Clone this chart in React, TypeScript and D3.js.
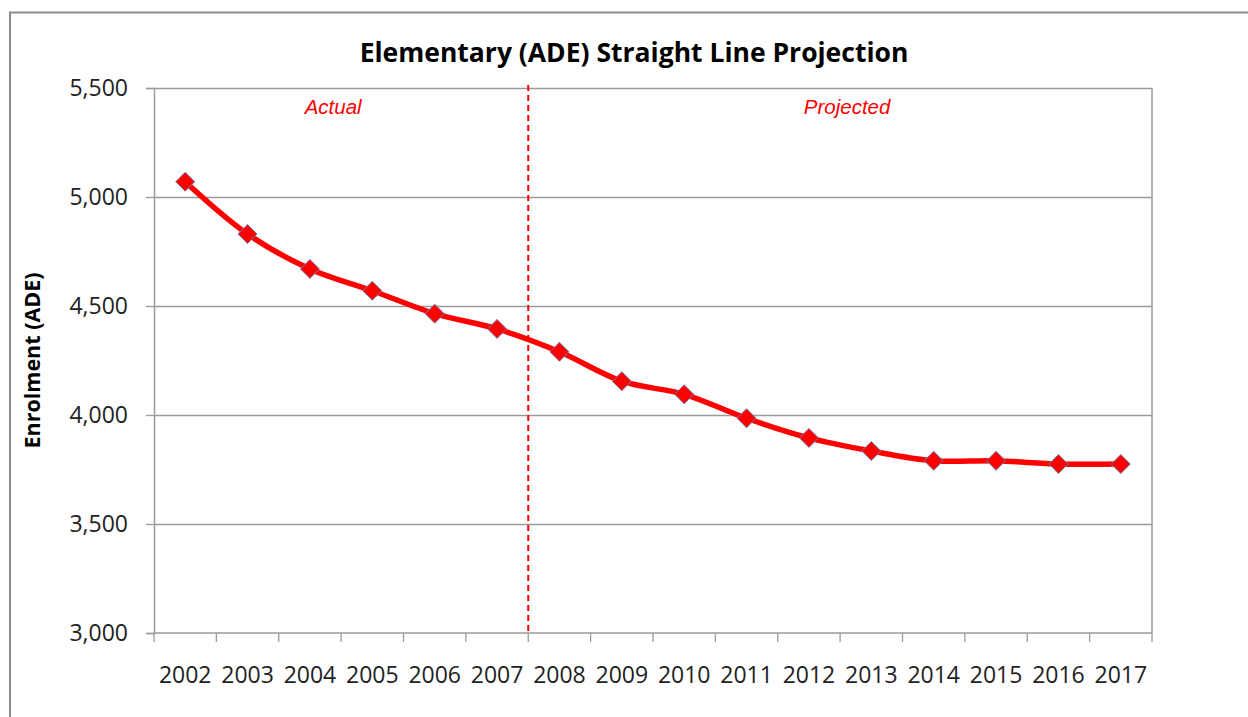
import * as d3 from "d3";
import {useEffect, useRef} from "react";

// enrolment values
const years = ["2002", "2003", "2004", "2005", "2006", "2007", "2008", "2009",
    "2010", "2011", "2012", "2013", "2014", "2015", "2016", "2017"];
const enrolment = [5070, 4830, 4670, 4570, 4465, 4395, 4290, 4155,
    4095, 3985, 3895, 3835, 3790, 3790, 3775, 3775];
const yTicks = [3000, 3500, 4000, 4500, 5000, 5500];
const splitAfter = "2007"; // last actual year
const notes = [{text: "Actual", from: "2002", to: "2007"}, {text: "Projected", from: "2008", to: "2017"}];

export default function App() {
    const ref = useRef<SVGSVGElement>(null);

    useEffect(() => {
        const width = 1248;
        const height = 717;
        const margin = {top: 88, right: 96, bottom: 84, left: 154};
        const font = "'Open Sans', Lato, sans-serif";

        const svg = d3.select(ref.current);
        svg.selectAll("*").remove();
        svg.attr("width", width).attr("height", height);

        svg.append("rect").attr("width", width).attr("height", height).attr("fill", "#fff");
        // chart frame (runs off the right and bottom edges)
        svg.append("rect")
            .attr("x", 10).attr("y", 12.5)
            .attr("width", width + 20).attr("height", height + 20)
            .attr("fill", "none").attr("stroke", "#8c8c8c").attr("stroke-width", 2);

        const x = d3.scaleBand().domain(years).range([margin.left, width - margin.right]);
        const y = d3.scaleLinear().domain([3000, 5500]).range([height - margin.bottom, margin.top]);
        const x0 = margin.left, x1 = width - margin.right;

        // gridlines
        svg.append("g").selectAll("line").data(yTicks.slice(1)).join("line")
            .attr("x1", x0).attr("x2", x1)
            .attr("y1", d => Math.round(y(d)) + 0.5).attr("y2", d => Math.round(y(d)) + 0.5)
            .attr("stroke", "#9a9a9a").attr("stroke-width", 1.3);

        // right border of plot
        svg.append("line").attr("x1", x1).attr("x2", x1)
            .attr("y1", y(5500)).attr("y2", y(3000))
            .attr("stroke", "#9a9a9a").attr("stroke-width", 1.5);

        // y axis
        const yAxis = svg.append("g").attr("transform", `translate(${x0},0)`)
            .call(d3.axisLeft(y).tickValues(yTicks).tickSize(8).tickPadding(18).tickFormat(d3.format(",")));
        yAxis.select(".domain").attr("stroke", "#9a9a9a").attr("stroke-width", 1.5);
        yAxis.selectAll(".tick line").attr("stroke", "#9a9a9a").attr("stroke-width", 1.3);
        yAxis.selectAll("text").attr("font-family", font).attr("font-size", 23).attr("fill", "#222");

        // x axis with ticks at category boundaries
        const xAxisG = svg.append("g").attr("transform", `translate(0,${y(3000)})`);
        xAxisG.append("line").attr("x1", x0).attr("x2", x1)
            .attr("stroke", "#9a9a9a").attr("stroke-width", 1.5);
        const bounds = years.map(d => x(d) as number).concat([x1]);
        xAxisG.selectAll("line.tk").data(bounds).join("line").attr("class", "tk")
            .attr("x1", d => d).attr("x2", d => d).attr("y1", 0).attr("y2", 9)
            .attr("stroke", "#9a9a9a").attr("stroke-width", 1.3);
        xAxisG.selectAll("text").data(years).join("text")
            .attr("x", d => (x(d) as number) + x.bandwidth() / 2)
            .attr("y", 50)
            .attr("text-anchor", "middle")
            .attr("font-family", font).attr("font-size", 23).attr("fill", "#222")
            .text(d => d);

        // split line between actual and projected
        const splitX = (x(splitAfter) as number) + x.bandwidth();
        svg.append("line").attr("x1", splitX).attr("x2", splitX)
            .attr("y1", y(5500) - 3).attr("y2", y(3000))
            .attr("stroke", "#ff0000").attr("stroke-width", 2).attr("stroke-dasharray", "6,4");

        svg.append("g").selectAll("text").data(notes).join("text")
            .attr("x", d => ((x(d.from) as number) + (x(d.to) as number) + x.bandwidth()) / 2
                + (d.text === "Actual" ? -8 : 7))
            .attr("y", y(5500) + 26)
            .attr("text-anchor", "middle")
            .attr("font-family", "'Liberation Sans', Arial, sans-serif")
            .attr("font-style", "italic").attr("font-size", 20.5).attr("fill", "#ff0000")
            .text(d => d.text);

        // series line
        const line = d3.line<number>()
            .x((_, i) => (x(years[i]) as number) + x.bandwidth() / 2)
            .y(d => y(d))
            .curve(d3.curveCatmullRom.alpha(0.5));
        svg.append("path").datum(enrolment)
            .attr("d", line)
            .attr("fill", "none").attr("stroke", "#ff0000").attr("stroke-width", 5.5)
            .attr("stroke-linejoin", "round");

        // diamond markers
        const diamond = d3.symbol().type(d3.symbolDiamond2).size(230);
        svg.append("g").selectAll("path").data(enrolment).join("path")
            .attr("transform", (d, i) => `translate(${(x(years[i]) as number) + x.bandwidth() / 2},${y(d)})`)
            .attr("d", diamond)
            .attr("fill", "#ff0000").attr("stroke", "#6f7bb0").attr("stroke-width", 1);

        // title
        svg.append("text").attr("x", 634).attr("y", 62)
            .attr("text-anchor", "middle")
            .attr("font-family", font).attr("font-weight", "bold").attr("font-size", 26.5).attr("fill", "#000")
            .text("Elementary (ADE) Straight Line Projection");

        // y axis title
        svg.append("text")
            .attr("transform", `translate(40,${(y(5500) + y(3000)) / 2}) rotate(-90)`)
            .attr("text-anchor", "middle")
            .attr("font-family", font).attr("font-weight", "bold").attr("font-size", 21.5).attr("fill", "#000")
            .text("Enrolment (ADE)");
    }, []);

    return <svg ref={ref} style={{position: "absolute", left: 0, top: 0, display: "block"}}></svg>;
}
